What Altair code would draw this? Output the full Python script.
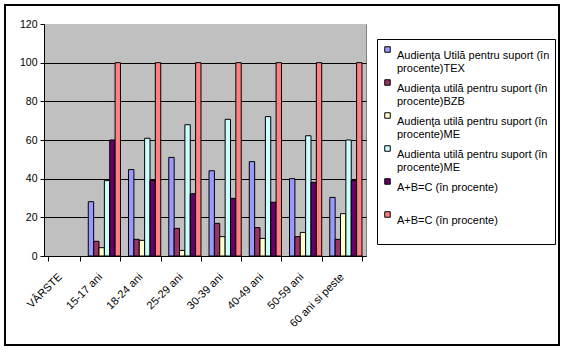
import json
import altair as alt
import pandas as pd

categories = ["VÂRSTE", "15-17 ani", "18-24 ani", "25-29 ani", "30-39 ani",
              "40-49 ani", "50-59 ani", "60 ani si peste"]
tex = [None, 28.1, 44.7, 51.0, 44.1, 48.8, 40.0, 30.3]
bzb = [None, 7.6, 8.6, 14.3, 16.9, 14.7, 10.0, 8.6]
me = [None, 4.3, 8.1, 2.9, 10.0, 9.1, 12.2, 21.9]
me2 = [None, 39.0, 60.9, 67.9, 70.7, 72.1, 62.2, 60.0]
abc = [None, 60.0, 39.0, 32.2, 29.8, 27.8, 38.1, 39.1]
total = [None, 100, 100, 100, 100, 100, 100, 100]

series_keys = ["s1", "s2", "s3", "s4", "s5", "s6"]
series_labels = [
    ["Audienţa Utilă pentru suport (în", "procente)TEX"],
    ["Audienţa utilă pentru suport (în", "procente)BZB"],
    ["Audienţa utilă pentru suport (în", "procente)ME"],
    ["Audienta utilă pentru suport (în", "procente)ME"],
    ["A+B=C (în procente)", " "],
    ["A+B=C (în procente)", " "],
]
series_colors = ["#9999FF", "#993366", "#FFFFCC", "#CCFFFF", "#660066", "#FF8080"]
series_values = [tex, bzb, me, me2, abc, total]

rows = []
for key, vals in zip(series_keys, series_values):
    for cat, v in zip(categories, vals):
        if v is not None:
            rows.append({"cat": cat, "series": key, "value": v})
df = pd.DataFrame(rows)

label_expr = " : ".join(
    f"datum.value == '{k}' ? {json.dumps(l, ensure_ascii=False)}"
    for k, l in zip(series_keys, series_labels)
) + " : datum.label"

FONT = "Liberation Sans"

bars = alt.Chart(df).mark_bar(stroke="black", strokeWidth=1).encode(
    x=alt.X("cat:N", scale=alt.Scale(domain=categories, paddingInner=0.2, paddingOuter=0.1),
            axis=alt.Axis(title=None, labelAngle=-45, labelAlign="right", labelBaseline="middle",
                          labelFont=FONT, labelFontSize=11, labelColor="black",
                          tickBand="extent", tickExtra=True, tickSize=5, tickColor="black",
                          domainColor="black", labelPadding=14, labelOffset=-4, grid=False)),
    xOffset=alt.XOffset("series:N", scale=alt.Scale(domain=series_keys)),
    y=alt.Y("value:Q", scale=alt.Scale(domain=[0, 120]),
            axis=alt.Axis(title=None, values=[0, 20, 40, 60, 80, 100, 120],
                          labelFont=FONT, labelFontSize=10.5, labelColor="black",
                          tickSize=4, tickColor="black", domainColor="black",
                          labelPadding=3, grid=True,
                          gridColor={"condition": {"test": "datum.value >= 120", "value": "#C0C0C0"},
                                     "value": "black"})),
    color=alt.Color("series:N", scale=alt.Scale(domain=series_keys, range=series_colors),
                    legend=alt.Legend(title=None, orient="none", legendX=333, legendY=15,
                                      labelExpr=label_expr, labelFont=FONT, labelFontSize=11,
                                      labelColor="black", labelBaseline="top",
                                      symbolType="square", symbolSize=30,
                                      symbolStrokeColor="black", symbolStrokeWidth=1,
                                      labelOffset=4, rowPadding=3, padding=5,
                                      strokeColor="black", fillColor="white",
                                      labelLimit=300)),
)

frame = alt.Chart(pd.DataFrame({"f": [0]})).mark_rect(
    fill="white", fillOpacity=0, stroke="black", strokeWidth=2
).encode(x=alt.value(-39), x2=alt.value(515), y=alt.value(-19), y2=alt.value(321))

chart = alt.layer(bars, frame).properties(
    width=322, height=232,
    autosize=alt.AutoSizeParams(type="none"),
    padding={"left": 44, "top": 24, "right": 200, "bottom": 96},
    background="white",
).configure(style={"guide-label": {"lineHeight": 13}}).configure_view(
    fill="#C0C0C0", stroke="#808080"
)

chart.save("out.html", embed_options={"renderer": "svg", "actions": False})
